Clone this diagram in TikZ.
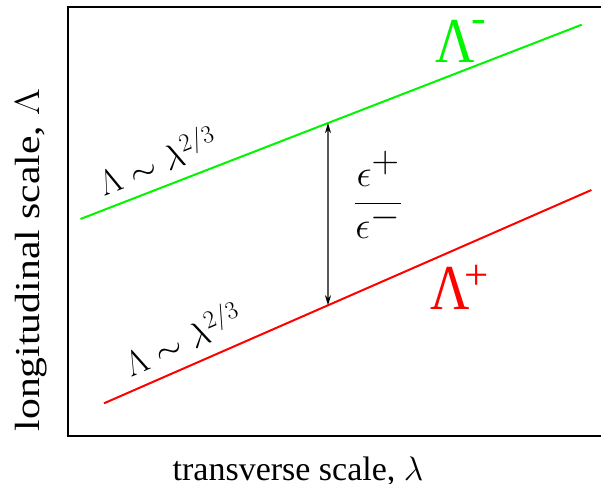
\RequirePackage{fix-cm}
\documentclass[tikz,border=0pt]{standalone}
\usepackage[no-math]{fontspec}
\setmainfont{Liberation Serif}
\DeclareMathSizes{34}{34}{24}{17}
\DeclareMathSizes{35}{35}{25}{18}
\DeclareMathSizes{38}{38}{27}{19}
\DeclareSymbolFont{cmrup}{OT1}{cmr}{m}{n}
\DeclareMathSymbol{\ULambda}{\mathalpha}{cmrup}{"03}
\usetikzlibrary{arrows.meta,calc}
\definecolor{lgreen}{RGB}{0,245,0}
\definecolor{lred}{RGB}{255,0,0}
\begin{document}
\begin{tikzpicture}[x=1pt,y=-1pt,
  frame/.style={line width=2pt},
  greenl/.style={line width=2pt,draw=lgreen},
  redl/.style={line width=2pt,draw=lred},
  ratio/.style={line width=1.2pt,{Stealth[length=10pt,width=6pt,inset=3pt]}-{Stealth[length=10pt,width=6pt,inset=3pt]}},
  lab/.style={inner sep=0pt,font=\fontsize{34}{40}\selectfont},
  mlab/.style={inner sep=0pt,anchor=base west,font=\fontsize{35}{40}\selectfont},
  big/.style={inner sep=0pt,anchor=base west,font=\fontsize{64}{70}\selectfont}]
\useasboundingbox (0,0) rectangle (601,483);
\draw[frame] (603,7) -- (68,7) -- (68,436) -- (603,436);
\coordinate (g1) at (80.5,219);
\coordinate (g2) at (581.7,24.7);
\coordinate (r1) at (104,403.3);
\coordinate (r2) at (591.4,190);
\draw[greenl] (g1) -- (g2);
\draw[redl] (r1) -- (r2);
\coordinate (at) at ($(g1)!0.4938!(g2)$);
\coordinate (ab) at ($(r1)!0.4596!(r2)$);
\draw[ratio] (at) -- (ab);
\node[inner sep=0pt] (frac) at (378,195) {\fontsize{38}{44}\selectfont${\displaystyle\frac{\epsilon^{\textstyle +}}{\epsilon^{\textstyle -}}}$};
\node[mlab,rotate=21.2] (glab) at (104,197) {$\ULambda\sim\lambda^{2/3}$};
\node[mlab,rotate=23.6] (rlab) at (131,377.3) {$\ULambda\sim\lambda^{2/3}$};
\node[big,text=lgreen] (lm) at (435,62.3) {\scalebox{0.85}[1]{Λ}\kern-3pt\raisebox{30pt}{\fontsize{44}{48}\selectfont -}};
\node[big,text=lred] (lp) at (430,309.3) {\scalebox{0.85}[1]{Λ}\kern-5pt\raisebox{20pt}{\fontsize{43}{48}\selectfont +}};
\node[lab,anchor=base] (xl) at (298,480) {transverse scale, $\lambda$};
\node[lab,anchor=base,rotate=90,font=\fontsize{35}{40}\selectfont] (yl) at (39,260) {\scalebox{1.19}[1]{longitudinal scale, $\ULambda$}};
\end{tikzpicture}
\end{document}
